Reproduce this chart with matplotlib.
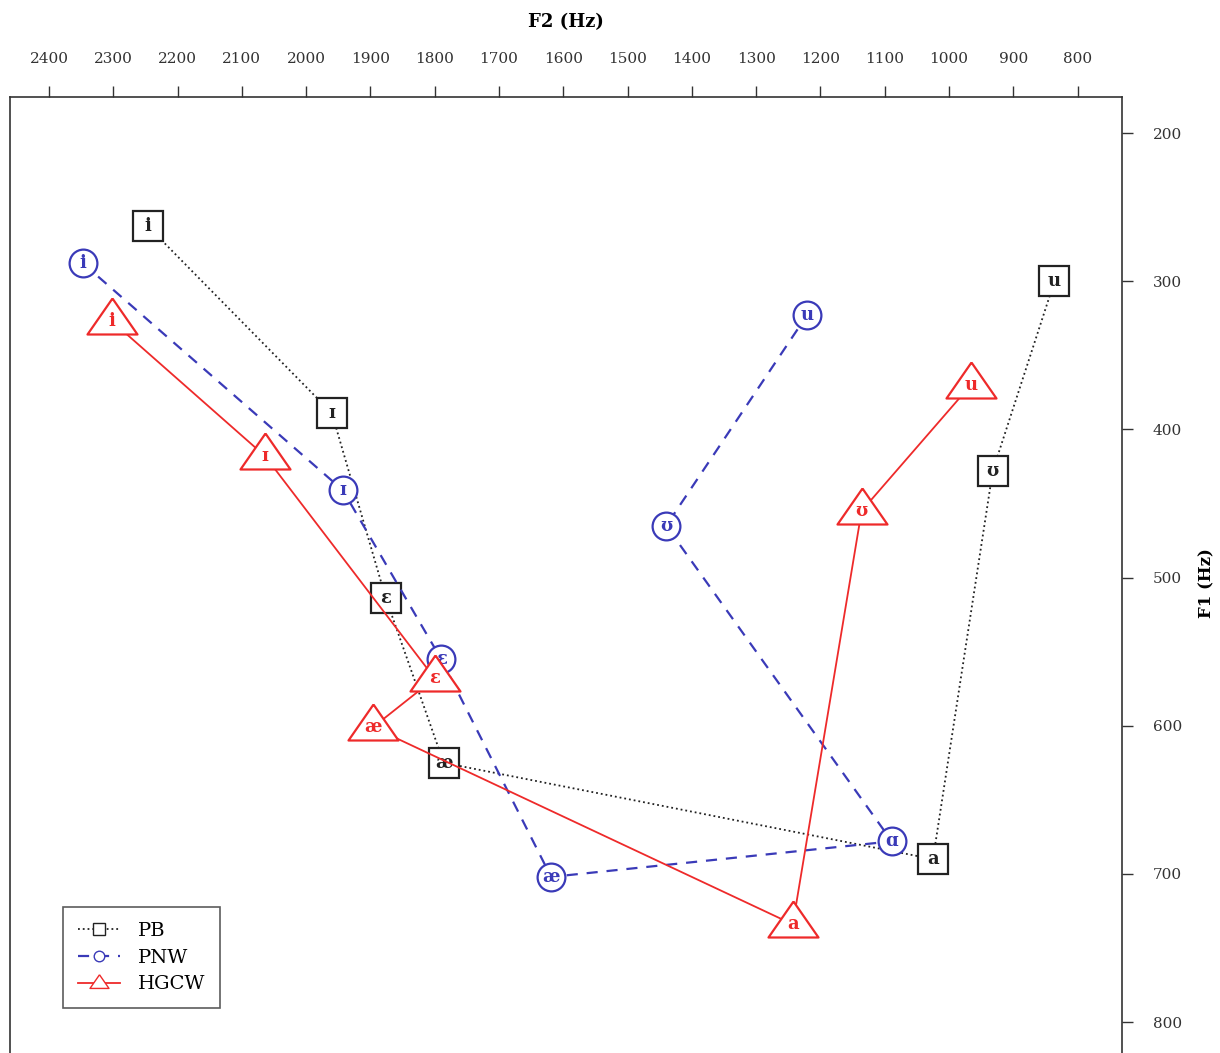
import matplotlib.pyplot as plt
from matplotlib.lines import Line2D

# vowel labels and formant means (Hz)
pb_vowels = ['i', 'ɪ', 'ɛ', 'æ', 'a', 'ʊ', 'u']
pb_f2 = [2246, 1960, 1876, 1786, 1025, 932, 836]
pb_f1 = [263, 389, 514, 625, 690, 428, 300]

pnw_vowels = ['i', 'ɪ', 'ɛ', 'æ', 'ɑ', 'ʊ', 'u']
pnw_f2 = [2347, 1943, 1790, 1619, 1089, 1440, 1221]
pnw_f1 = [288, 441, 555, 702, 678, 465, 323]

hgcw_vowels = ['i', 'ɪ', 'ɛ', 'æ', 'a', 'ʊ', 'u']
hgcw_f2 = [2302, 2064, 1800, 1896, 1243, 1136, 966]
hgcw_f1 = [327, 418, 568, 601, 734, 455, 370]

x_ticks = list(range(2400, 700, -100))
y_ticks = list(range(200, 900, 100))

black = '#222222'
blue = '#3a3ab8'
red = '#ee2a2a'
tri = [(0, 0.92), (-1, -0.52), (1, -0.52), (0, 0.92)]

plt.rcParams['font.family'] = ['DejaVu Serif']

fig = plt.figure(figsize=(12.2, 10.53), dpi=100)
ax = fig.add_axes([10 / 1220, -17 / 1053, 1112 / 1220, 973 / 1053])

series = [
    (pb_vowels, pb_f2, pb_f1, black, ':', 1.3, 's', 22, 'PB'),
    (pnw_vowels, pnw_f2, pnw_f1, blue, (0, (5, 4)), 1.6, 'o', 20, 'PNW'),
    (hgcw_vowels, hgcw_f2, hgcw_f1, red, '-', 1.3, tri, 36, 'HGCW'),
]

handles = []
for i, (vw, f2, f1, col, ls, lw, mk, ms, name) in enumerate(series):
    ax.plot(f2, f1, color=col, linestyle=ls, linewidth=lw, zorder=2 + i)
    ax.plot(f2, f1, linestyle='none', marker=mk, markersize=ms,
            markerfacecolor='white', markeredgecolor=col, markeredgewidth=1.6,
            zorder=2.5 + i)
    for v, x, y in zip(vw, f2, f1):
        ax.text(x, y, v, color=col, fontsize=13, fontweight='bold',
                ha='center', va='center', zorder=2.6 + i)
    handles.append(Line2D([], [], color=col, linestyle=ls, linewidth=lw,
                          marker=mk, markersize=ms * 0.38,
                          markerfacecolor='white', markeredgecolor=col,
                          label=name))

ax.set_xlim(2460.6, 731)
ax.set_ylim(832.3, 175.7)

ax.xaxis.tick_top()
ax.xaxis.set_label_position('top')
ax.set_xticks(x_ticks)
ax.yaxis.tick_right()
ax.yaxis.set_label_position('right')
ax.set_yticks(y_ticks)
ax.tick_params(direction='out', length=8, width=1, labelsize=11,
               colors='#333333')
ax.tick_params(axis='x', pad=14)
ax.tick_params(axis='y', pad=14)

ax.set_xlabel('F2 (Hz)', fontsize=13, fontweight='bold', labelpad=18)
ax.set_ylabel('F1 (Hz)', fontsize=12, fontweight='bold', labelpad=12,
              rotation=90)

for s in ['top', 'left', 'right']:
    ax.spines[s].set_color('#333333')
    ax.spines[s].set_linewidth(1.2)
ax.spines['bottom'].set_visible(False)

leg = ax.legend(handles=handles, loc='lower left',
                bbox_to_anchor=(53 / 1112, (1070 - 1008) / 973),
                fontsize=14, frameon=True, fancybox=False, edgecolor='#333333',
                handlelength=2.2, handletextpad=0.9, borderpad=0.75,
                labelspacing=0.45, borderaxespad=0)
leg.get_frame().set_linewidth(1.2)

fig.savefig('out.png', dpi=100)
